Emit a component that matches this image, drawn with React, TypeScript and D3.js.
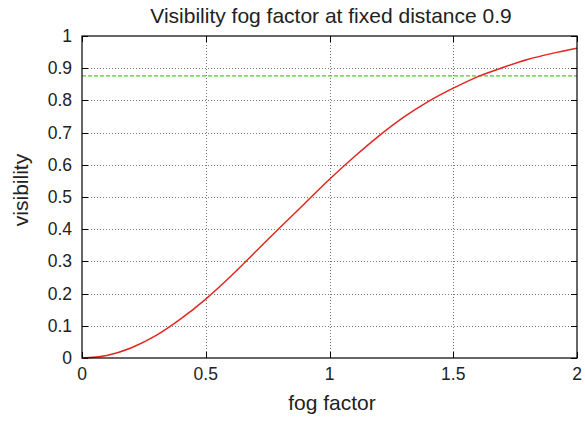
import React, { useRef, useEffect } from 'react';
import * as d3 from 'd3';

// visibility at fog factor steps of 0.1
const fogFactors = [0, 0.1, 0.2, 0.3, 0.4, 0.5, 0.6, 0.7, 0.8, 0.9, 1.0, 1.1, 1.2, 1.3, 1.4, 1.5, 1.6, 1.7, 1.8, 1.9, 2.0];
const visibility = [0, 0.008, 0.032, 0.070, 0.122, 0.183, 0.253, 0.329, 0.405, 0.480, 0.555, 0.625, 0.690, 0.748, 0.797, 0.838, 0.874, 0.902, 0.927, 0.946, 0.962];
const thresholdX = [0, 2];
const thresholdY = [0.876, 0.876];
const xTicks = [0, 0.5, 1, 1.5, 2];
const yTicks = [0, 0.1, 0.2, 0.3, 0.4, 0.5, 0.6, 0.7, 0.8, 0.9, 1];

export default function App() {
  const svgRef = useRef<SVGSVGElement>(null);

  useEffect(() => {
    const svg = d3.select(svgRef.current);
    svg.selectAll("*").remove();

    const width = 585;
    const height = 421;
    const margin = { top: 36, right: 8, bottom: 63, left: 82 };
    const font = "'Liberation Sans', Arial, sans-serif";

    const x = d3.scaleLinear().domain([0, 2]).range([margin.left, width - margin.right]);
    const y = d3.scaleLinear().domain([0, 1]).range([height - margin.bottom, margin.top]);

    // grid
    const grid = svg.append("g").attr("stroke", "#777").attr("stroke-width", 1).attr("stroke-dasharray", "1,2");
    grid.selectAll("line.gx")
      .data(xTicks.slice(1, -1))
      .join("line")
      .attr("x1", d => Math.round(x(d)) + 0.5).attr("x2", d => Math.round(x(d)) + 0.5)
      .attr("y1", y(0)).attr("y2", y(1));
    grid.selectAll("line.gy")
      .data(yTicks.slice(1, -1))
      .join("line")
      .attr("y1", d => Math.round(y(d)) + 0.5).attr("y2", d => Math.round(y(d)) + 0.5)
      .attr("x1", x(0)).attr("x2", x(2));

    // inward ticks on all four sides
    const tl = 6;
    const ticks = svg.append("g").attr("stroke", "#000").attr("stroke-width", 1);
    xTicks.forEach(t => {
      const px = Math.round(x(t)) + 0.5;
      ticks.append("line").attr("x1", px).attr("x2", px).attr("y1", y(0)).attr("y2", y(0) - tl);
      ticks.append("line").attr("x1", px).attr("x2", px).attr("y1", y(1)).attr("y2", y(1) + tl);
    });
    yTicks.forEach(t => {
      const py = Math.round(y(t)) + 0.5;
      ticks.append("line").attr("y1", py).attr("y2", py).attr("x1", x(0)).attr("x2", x(0) + tl);
      ticks.append("line").attr("y1", py).attr("y2", py).attr("x1", x(2)).attr("x2", x(2) - tl);
    });

    // tick labels
    svg.append("g").selectAll("text")
      .data(xTicks)
      .join("text")
      .attr("x", d => x(d))
      .attr("y", y(0) + 22)
      .attr("text-anchor", "middle")
      .attr("font-family", font)
      .attr("font-size", 17.5)
      .attr("fill", "#222")
      .text(d => d3.format("")(d));
    svg.append("g").selectAll("text")
      .data(yTicks)
      .join("text")
      .attr("x", x(0) - 10)
      .attr("y", d => y(d) + 6)
      .attr("text-anchor", "end")
      .attr("font-family", font)
      .attr("font-size", 17.5)
      .attr("fill", "#222")
      .text(d => d3.format("")(d));

    // threshold line
    svg.append("path")
      .datum(thresholdX.map((v, i) => [v, thresholdY[i]] as [number, number]))
      .attr("fill", "none")
      .attr("stroke", "#55c832")
      .attr("stroke-width", 1.2)
      .attr("stroke-dasharray", "4,2")
      .attr("d", d3.line().x(d => x(d[0])).y(d => y(d[1])));

    // curve
    const line = d3.line<number>()
      .x((d, i) => x(fogFactors[i]))
      .y(d => y(d))
      .curve(d3.curveMonotoneX);
    svg.append("path")
      .datum(visibility)
      .attr("fill", "none")
      .attr("stroke", "#e2261f")
      .attr("stroke-width", 1.5)
      .attr("d", line);

    // frame
    svg.append("rect")
      .attr("x", x(0)).attr("y", y(1))
      .attr("width", x(2) - x(0)).attr("height", y(0) - y(1))
      .attr("fill", "none")
      .attr("stroke", "#000")
      .attr("stroke-width", 1.2);

    // titles
    svg.append("text")
      .attr("x", 331)
      .attr("y", 23)
      .attr("text-anchor", "middle")
      .attr("font-family", font)
      .attr("font-size", 21)
      .attr("fill", "#222")
      .text("Visibility fog factor at fixed distance 0.9");
    svg.append("text")
      .attr("x", 332)
      .attr("y", 410)
      .attr("text-anchor", "middle")
      .attr("font-family", font)
      .attr("font-size", 21)
      .attr("fill", "#222")
      .text("fog factor");
    svg.append("text")
      .attr("transform", `translate(28,190) rotate(-90)`)
      .attr("text-anchor", "middle")
      .attr("font-family", font)
      .attr("font-size", 21)
      .attr("fill", "#222")
      .text("visibility");
  }, []);

  return (
    <svg
      ref={svgRef}
      width={585}
      height={421}
      style={{ position: "absolute", left: 0, top: 0, background: "#fff" }}
    />
  );
}
